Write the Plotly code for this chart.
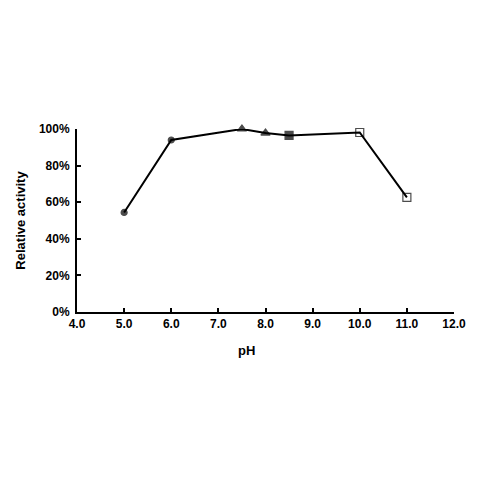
import plotly.graph_objects as go

ph = [5.0, 6.0, 7.5, 8.0, 8.5, 10.0, 11.0]
activity = [0.544, 0.940, 1.000, 0.978, 0.965, 0.981, 0.626]
symbols = ["circle", "circle", "triangle-up", "triangle-up", "square", "square-open", "square-open"]

x_ticks = [4.0, 5.0, 6.0, 7.0, 8.0, 9.0, 10.0, 11.0, 12.0]
x_tick_labels = ["4.0", "5.0", "6.0", "7.0", "8.0", "9.0", "10.0", "11.0", "12.0"]
y_ticks = [0, 0.2, 0.4, 0.6, 0.8, 1.0]
y_tick_labels = ["0%", "20%", "40%", "60%", "80%", "100%"]

fig = go.Figure()
fig.add_trace(go.Scatter(
    x=ph, y=activity, mode="lines+markers",
    line=dict(color="black", width=2),
    marker=dict(symbol=symbols, size=[6, 6, 8, 8, 8, 8, 8], color="black",
                line=dict(color="black", width=1.2)),
    cliponaxis=False, showlegend=False,
))

font = dict(family="Liberation Sans, Arial, sans-serif", size=12, color="black")

fig.add_annotation(text="<b>pH</b>", x=0.45, y=-0.21, xref="paper", yref="paper",
                   showarrow=False, font=dict(size=13), xanchor="center", yanchor="middle")

fig.update_layout(
    width=472, height=472,
    margin=dict(l=69, r=26, t=121, b=168),
    paper_bgcolor="white", plot_bgcolor="white",
    font=font,
    xaxis=dict(range=[4, 12], tickvals=x_ticks, ticktext=[f"<b>{t}</b>" for t in x_tick_labels],
               showline=True, linecolor="black", linewidth=2, ticks="inside", ticklen=4,
               tickwidth=1.5, tickcolor="black", showgrid=False, zeroline=False),
    yaxis=dict(range=[0, 1], tickvals=y_ticks, ticktext=[f"<b>{t}</b>" for t in y_tick_labels],
               showline=True, linecolor="black", linewidth=2, ticks="inside", ticklen=4,
               tickwidth=1.5, tickcolor="black", showgrid=False, zeroline=False,
               ticklabelstandoff=3,
               title=dict(text="<b>Relative activity</b>", font=dict(size=13), standoff=10)),
)

fig.write_html("out.html")
